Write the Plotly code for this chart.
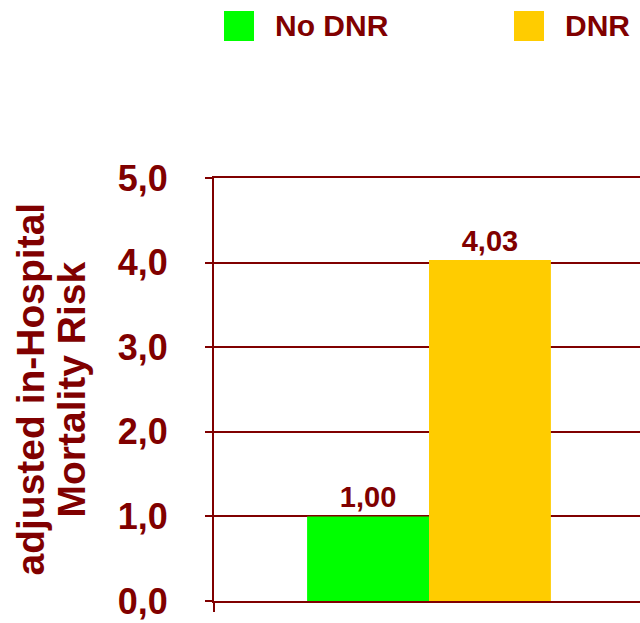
import plotly.graph_objects as go

# Data
series = ["No DNR", "DNR"]
values = [1.00, 4.03]
colors = ["#00FF00", "#FFCC00"]
y_ticks = [0, 1, 2, 3, 4, 5]
y_title_lines = ["adjusted in-Hospital", "Mortality Risk"]

DARK_RED = "#800000"
FONT = "Liberation Sans, Arial, sans-serif"

W, H = 640, 623
L, R, T, B = 214, 0, 178, 22
PW, PH = W - L - R, H - T - B


def px_x(px):
    """Pixel column -> paper x."""
    return (px - L) / PW


def px_y(py):
    """Pixel row -> paper y."""
    return (H - B - py) / PH


fig = go.Figure()
for name, v, c in zip(series, values, colors):
    fig.add_trace(go.Bar(
        x=[0], y=[v], name=name,
        marker=dict(color=c, line=dict(width=0)),
        texttemplate="%{y:.2f}", textposition="outside",
        textfont=dict(family=FONT, size=29, color=DARK_RED, weight="bold"),
        cliponaxis=False, showlegend=False,
    ))

# Legend drawn as coloured squares with labels across the top
shapes = []
annotations = []
legend_box_x = [224, 514]
legend_text_x = [273, 563]
for name, c, bx, tx in zip(series, colors, legend_box_x, legend_text_x):
    shapes.append(dict(
        type="rect", xref="paper", yref="paper",
        x0=px_x(bx), x1=px_x(bx + 30), y0=px_y(41), y1=px_y(11),
        fillcolor=c, line=dict(width=0), layer="above",
    ))
    annotations.append(dict(
        text=name, xref="paper", yref="paper",
        x=px_x(tx), y=px_y(25), xanchor="left", yanchor="middle",
        showarrow=False,
        font=dict(family=FONT, size=30, color=DARK_RED, weight="bold"),
    ))

# Two-line rotated axis title
for line, cx in zip(y_title_lines, [30, 71]):
    annotations.append(dict(
        text=line, xref="paper", yref="paper",
        x=px_x(cx), y=0.5, xanchor="center", yanchor="middle",
        textangle=-90, showarrow=False,
        font=dict(family=FONT, size=39, color=DARK_RED, weight="bold"),
    ))

fig.update_layout(
    width=W, height=H,
    margin=dict(l=L, r=R, t=T, b=B, pad=0),
    paper_bgcolor="white", plot_bgcolor="white",
    separators=",.",
    barmode="group", bargap=0.433, bargroupgap=0,
    shapes=shapes, annotations=annotations,
    xaxis=dict(
        range=[-0.5, 0.4907], tickvals=[-0.5], ticks="outside",
        ticklen=9, tickwidth=2, tickcolor=DARK_RED,
        showticklabels=False, showgrid=False, zeroline=False,
        showline=True, linecolor=DARK_RED, linewidth=2, mirror=True,
    ),
    yaxis=dict(
        range=[0, 5], tickvals=y_ticks, tickformat=".1f",
        ticks="outside", ticklen=7, tickwidth=2, tickcolor=DARK_RED,
        ticklabelstandoff=30,
        tickfont=dict(family=FONT, size=36, color=DARK_RED, weight="bold"),
        showgrid=True, gridcolor=DARK_RED, gridwidth=2, zeroline=False,
        showline=True, linecolor=DARK_RED, linewidth=2,
    ),
)

fig.write_html("out.html")
